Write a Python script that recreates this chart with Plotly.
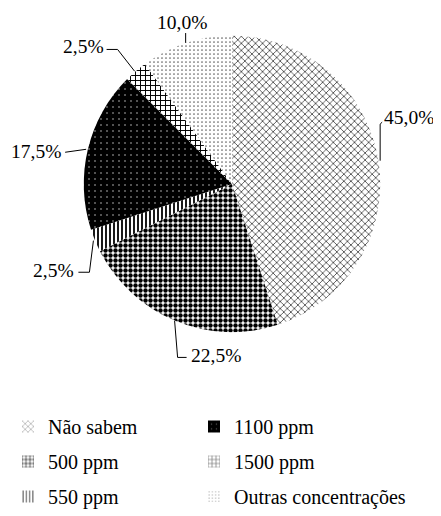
import numpy as np
import plotly.graph_objects as go

# data
labels = ["Não sabem", "500 ppm", "550 ppm", "1100 ppm", "1500 ppm", "Outras concentrações"]
values = [45.0, 22.5, 2.5, 17.5, 2.5, 10.0]
legend_col1 = ["Não sabem", "500 ppm", "550 ppm"]
legend_col2 = ["1100 ppm", "1500 ppm", "Outras concentrações"]

# page body has an 8px margin, so the figure is a bit smaller than the window
W, H = 433, 508
cx, cy, R = 224, 178, 150
FONT = "Liberation Serif, 'Times New Roman', Times, serif"

# fill textures per slice
pat = {
    "Não sabem": dict(shape="x", fgcolor="#444444", bgcolor="white", size=5, solidity=0.3),
    "500 ppm": dict(shape=".", fgcolor="black", bgcolor="white", size=5, solidity=0.62),
    "550 ppm": dict(shape="|", fgcolor="black", bgcolor="white", size=4, solidity=0.45),
    "1100 ppm": dict(shape=".", fgcolor="#bbbbbb", bgcolor="black", size=6, solidity=0.06),
    "1500 ppm": dict(shape="+", fgcolor="black", bgcolor="white", size=5, solidity=0.35),
    "Outras concentrações": dict(shape=".", fgcolor="#666666", bgcolor="white", size=4, solidity=0.15),
}

# leader line layout: elbow offset from edge, end offset from elbow, text offset from end, anchor
leaders = [
    ((0, -37), (2, -2), (0, -5), "left"),
    ((3, 37), (9, 0), (2, -2), "left"),
    ((-4, 32), (-11, 0), (-2, -2), "right"),
    ((-21, 3), (0, 0), (-2, -1), "right"),
    ((-17, -22), (-11, 0), (-1, -3), "right"),
    ((0, -10), (0, 0), (-4, -11), "center"),
]

fig = go.Figure()

fig.add_trace(go.Pie(
    labels=labels, values=values, sort=False, direction="clockwise", rotation=0,
    textinfo="none", showlegend=False, hoverinfo="label+percent",
    marker=dict(
        colors=[pat[l]["bgcolor"] for l in labels],
        line=dict(width=0),
        pattern=dict(
            shape=[pat[l]["shape"] for l in labels],
            fgcolor=[pat[l]["fgcolor"] for l in labels],
            bgcolor=[pat[l]["bgcolor"] for l in labels],
            size=[pat[l]["size"] for l in labels],
            solidity=[pat[l]["solidity"] for l in labels],
        ),
    ),
    domain=dict(x=[(cx - R) / W, (cx + R) / W], y=[1 - (cy + R) / H, 1 - (cy - R) / H]),
))

total = sum(values)
cum = 0
lx, ly = [], []
annots = []
for v, (el, en, tx, anc) in zip(values, leaders):
    a = np.radians((cum + v / 2) / total * 360)
    cum += v
    ex, ey = cx + R * np.sin(a), cy - R * np.cos(a)
    bx, by = ex + el[0], ey + el[1]
    nx, ny = bx + en[0], by + en[1]
    lx += [ex, bx, nx, None]
    ly += [ey, by, ny, None]
    txt = f"{v / total * 100:.1f}%".replace(".", ",")
    annots.append(dict(x=nx + tx[0], y=ny + tx[1], text=txt, showarrow=False,
                       xanchor=anc, yanchor="middle", xref="x", yref="y",
                       font=dict(family=FONT, size=19.5, color="black")))

fig.add_trace(go.Scatter(x=lx, y=ly, mode="lines", line=dict(color="black", width=1),
                         showlegend=False, hoverinfo="skip"))

for col, lg in [(legend_col1, "legend"), (legend_col2, "legend2")]:
    for l in col:
        p = pat[l]
        fig.add_trace(go.Bar(
            x=[None], y=[None], name=l, legend=lg, legendgroup=l,
            marker=dict(color=p["bgcolor"], line=dict(width=0),
                        pattern=dict(shape=p["shape"], fgcolor=p["fgcolor"], bgcolor=p["bgcolor"],
                                     size=p["size"], solidity=p["solidity"])),
        ))

leg = dict(yanchor="top", xanchor="left", y=1 - 404 / H, bgcolor="rgba(0,0,0,0)",
           font=dict(family=FONT, size=20, color="black"), tracegroupgap=6, itemwidth=30)

fig.update_layout(
    width=W, height=H, margin=dict(l=0, r=0, t=0, b=0),
    paper_bgcolor="white", plot_bgcolor="white",
    xaxis=dict(range=[0, W], visible=False, fixedrange=True),
    yaxis=dict(range=[H, 0], visible=False, fixedrange=True),
    annotations=annots,
    legend=dict(leg, x=0),
    legend2=dict(leg, x=186 / W),
)

fig.write_html("out.html")
